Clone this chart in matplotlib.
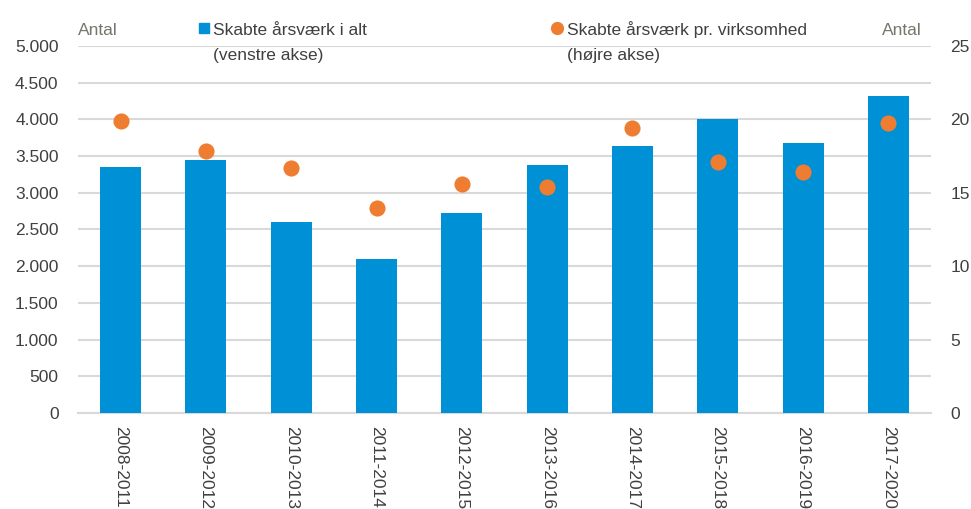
import matplotlib
matplotlib.use("Agg")
import matplotlib.pyplot as plt
from matplotlib.lines import Line2D
import numpy as np

periods = ["2008-2011", "2009-2012", "2010-2013", "2011-2014", "2012-2015",
           "2013-2016", "2014-2017", "2015-2018", "2016-2019", "2017-2020"]
aarsvaerk_total = [3350, 3450, 2600, 2100, 2730, 3380, 3640, 4000, 3680, 4320]
aarsvaerk_pr_virk = [19.9, 17.85, 16.7, 13.95, 15.6, 15.4, 19.4, 17.1, 16.4, 19.75]
left_ticks = [0, 500, 1000, 1500, 2000, 2500, 3000, 3500, 4000, 4500, 5000]
left_labels = ["0", "500", "1.000", "1.500", "2.000", "2.500", "3.000", "3.500", "4.000", "4.500", "5.000"]
right_ticks = [0, 5, 10, 15, 20, 25]

BLUE = "#0090D5"
ORANGE = "#EE7D31"
GRID = "#D9D9D9"
TXT = "#404040"
ANTAL = "#76766A"
FONT = "Liberation Sans"
FS = 12.5

plt.rcParams['font.family'] = [FONT, 'DejaVu Sans']

fig = plt.figure(figsize=(9.71, 5.09), dpi=100)
ax = fig.add_axes([78/971, 1-413/509, (931-78)/971, (413-46)/509])
ax2 = ax.twinx()

x = np.arange(len(periods))
ax.bar(x, aarsvaerk_total, width=0.48, color=BLUE, zorder=3)
ax2.scatter(x, aarsvaerk_pr_virk, s=135, color=ORANGE, zorder=4, linewidths=0)

ax.set_xlim(-0.5, len(periods) - 0.5)
ax.set_ylim(0, 5000)
ax2.set_ylim(0, 25)

ax.set_yticks(left_ticks)
ax.set_yticklabels(left_labels)
ax2.set_yticks(right_ticks)
ax2.set_yticklabels([str(t) for t in right_ticks])

ax.set_xticks(x)
ax.set_xticklabels(periods, rotation=270, va="top", ha="center")

ax.grid(axis="y", color=GRID, linewidth=1.5, zorder=0)
ax.set_axisbelow(True)
for a in (ax, ax2):
    for s in ("top", "left", "right"):
        a.spines[s].set_visible(False)
    a.spines["bottom"].set_color(GRID)
    a.spines["bottom"].set_linewidth(1.5)
ax2.spines["bottom"].set_visible(False)

ax.tick_params(axis="y", length=0, pad=14, labelsize=FS, labelcolor=TXT)
ax.tick_params(axis="x", length=0, pad=9, labelsize=FS, labelcolor=TXT)
ax2.tick_params(axis="y", length=0, pad=14, labelsize=FS, labelcolor=TXT)

# Axis titles
fig.text(78/971, 1-35/509, "Antal", fontsize=FS, color=ANTAL, ha="left", va="baseline")
fig.text(922/971, 1-35/509, "Antal", fontsize=FS, color=ANTAL, ha="right", va="baseline")

# Legend (manual)
fig.add_artist(Line2D([203.5/971], [1-27.5/509], marker="s", markersize=6.5, color=BLUE,
                      linestyle="none", transform=fig.transFigure))
fig.text(213/971, 1-35/509, "Skabte årsværk i alt", fontsize=FS,
         color=TXT, ha="left", va="baseline")
fig.text(213/971, 1-60/509, "(venstre akse)", fontsize=FS,
         color=TXT, ha="left", va="baseline")
fig.add_artist(Line2D([557/971], [1-27.5/509], marker="o", markersize=8.5, color=ORANGE,
                      linestyle="none", transform=fig.transFigure))
fig.text(567/971, 1-35/509, "Skabte årsværk pr. virksomhed", fontsize=FS,
         color=TXT, ha="left", va="baseline")
fig.text(567/971, 1-60/509, "(højre akse)", fontsize=FS,
         color=TXT, ha="left", va="baseline")

fig.savefig("out.png", dpi=100)
